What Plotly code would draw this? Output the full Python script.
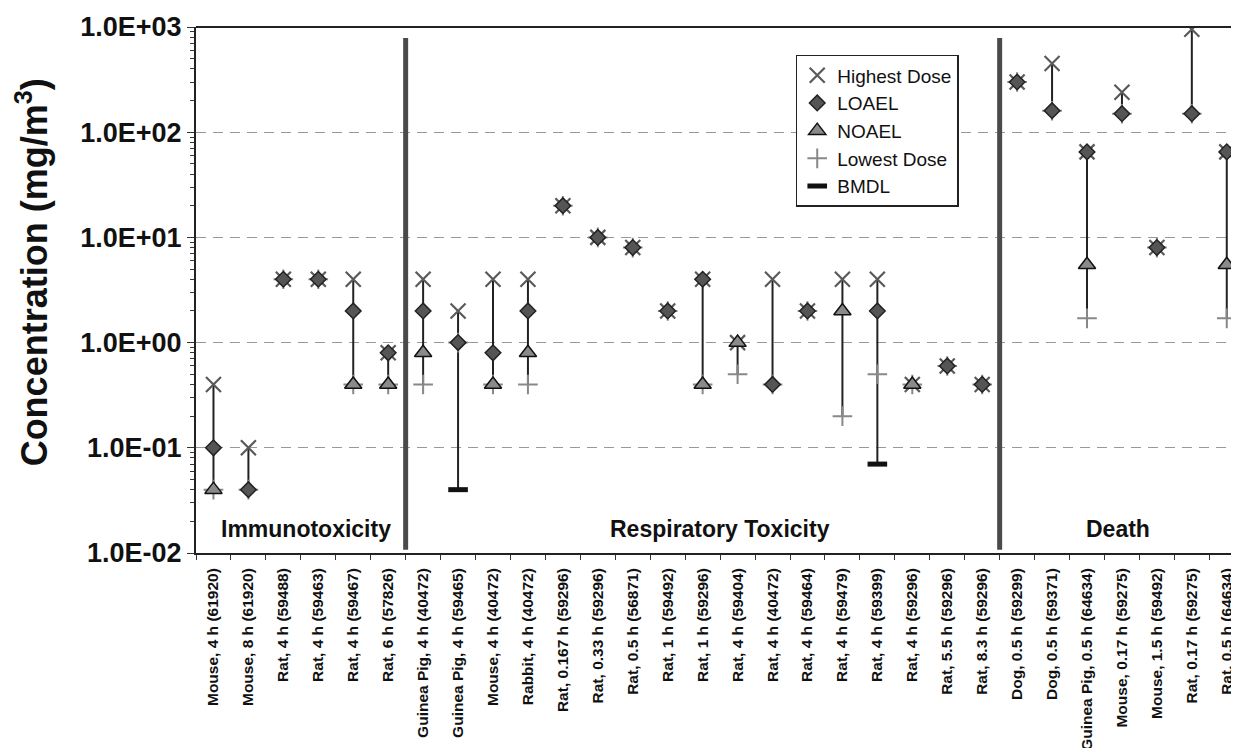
import plotly.graph_objects as go

categories = [
    "Mouse, 4 h (61920)", "Mouse, 8 h (61920)", "Rat, 4 h (59488)", "Rat, 4 h (59463)",
    "Rat, 4 h (59467)", "Rat, 6 h (57826)", "Guinea Pig, 4 h (40472)", "Guinea Pig, 4 h (59465)",
    "Mouse, 4 h (40472)", "Rabbit, 4 h (40472)", "Rat, 0.167 h (59296)", "Rat, 0.33 h (59296)",
    "Rat, 0.5 h (56871)", "Rat, 1 h (59492)", "Rat, 1 h (59296)", "Rat, 4 h (59404)",
    "Rat, 4 h (40472)", "Rat, 4 h (59464)", "Rat, 4 h (59479)", "Rat, 4 h (59399)",
    "Rat, 4 h (59296)", "Rat, 5.5 h (59296)", "Rat, 8.3 h (59296)", "Dog, 0.5 h (59299)",
    "Dog, 0.5 h (59371)", "Guinea Pig, 0.5 h (64634)", "Mouse, 0.17 h (59275)",
    "Mouse, 1.5 h (59492)", "Rat, 0.17 h (59275)", "Rat, 0.5 h (64634)",
]
highest_dose = [0.4, 0.1, 4, 4, 4, 0.8, 4, 2, 4, 4, 20, 10, 8, 2, 4, 1, 4, 2, 4, 4,
                0.4, 0.6, 0.4, 300, 450, 65, 240, 8, 950, 65]
loael = [0.1, 0.04, 4, 4, 2, 0.8, 2, 1, 0.8, 2, 20, 10, 8, 2, 4, None, 0.4, 2, None, 2,
         None, 0.6, 0.4, 300, 160, 65, 150, 8, 150, 65]
noael = [0.04, None, None, None, 0.4, 0.4, 0.8, None, 0.4, 0.8, None, None, None, None, 0.4, 1,
         None, None, 2, None, 0.4, None, None, None, None, 5.5, None, None, None, 5.5]
lowest_dose = [0.04, 0.04, 4, 4, 0.4, 0.4, 0.4, 1, 0.4, 0.4, 20, 10, 8, 2, 0.4, 0.5, 0.4, 2, 0.2, 0.5,
               0.4, 0.6, 0.4, 300, 160, 1.7, 150, 8, 150, 1.7]
bmdl = [None] * 30
bmdl[7] = 0.04
bmdl[19] = 0.07

groups = ["Immunotoxicity", "Respiratory Toxicity", "Death"]
group_centers = [2.65, 14.5, 25.9]
group_separators = [5.5, 22.5]

ytick_vals = [0.01, 0.1, 1, 10, 100, 1000]
ytick_text = ["1.0E-02", "1.0E-01", "1.0E+00", "1.0E+01", "1.0E+02", "1.0E+03"]
y_title = "Concentration (mg/m<sup>3</sup>)"

# vertical range lines (min to max of each category's values)
lx, ly = [], []
for i, c in enumerate(categories):
    vals = [s[i] for s in (highest_dose, loael, noael, lowest_dose, bmdl) if s[i] is not None]
    if max(vals) > min(vals):
        lx += [c, c, None]
        ly += [min(vals), max(vals), None]

fig = go.Figure()
fig.add_trace(go.Scatter(x=lx, y=ly, mode="lines", line=dict(color="#222", width=2),
                         showlegend=False, hoverinfo="skip"))

def pts(series):
    xs = [c for c, v in zip(categories, series) if v is not None]
    ys = [v for v in series if v is not None]
    return xs, ys

x, y = pts(highest_dose)
fig.add_trace(go.Scatter(x=x, y=y, mode="markers", name="Highest Dose", legendrank=1,
                         marker=dict(symbol="x-thin-open", size=15, color="#5a5a5a",
                                     line=dict(color="#5a5a5a", width=2.2))))
x, y = pts(lowest_dose)
fig.add_trace(go.Scatter(x=x, y=y, mode="markers", name="Lowest Dose", legendrank=4,
                         marker=dict(symbol="cross-thin-open", size=14, color="#888",
                                     line=dict(color="#888", width=2))))
x, y = pts(loael)
fig.add_trace(go.Scatter(x=x, y=y, mode="markers", name="LOAEL", legendrank=2,
                         marker=dict(symbol="diamond", size=12, color="#555",
                                     line=dict(color="#222", width=1.5))))
x, y = pts(noael)
fig.add_trace(go.Scatter(x=x, y=y, mode="markers", name="NOAEL", legendrank=3,
                         marker=dict(symbol="triangle-up", size=15, color="#8a8a8a",
                                     line=dict(color="#111", width=1.5))))
x, y = pts(bmdl)
fig.add_trace(go.Scatter(x=x, y=y, mode="markers", name="BMDL", legendrank=5,
                         marker=dict(symbol="line-ew-open", size=14, color="#111",
                                     line=dict(color="#111", width=5))))

shapes = []
for s in group_separators:
    shapes.append(dict(type="line", xref="x", yref="paper", x0=s, x1=s, y0=0.006, y1=0.979,
                       line=dict(color="#4a4a4a", width=5)))
shapes.append(dict(type="line", xref="paper", yref="paper", x0=0, x1=1, y0=1, y1=1,
                   line=dict(color="#222", width=2)))

annotations = []
for g, cx in zip(groups, group_centers):
    annotations.append(dict(x=cx, y=0.045, xref="x", yref="paper", text=g, showarrow=False,
                            font=dict(family="Liberation Sans, Arial, sans-serif",
                                      size=23, color="#111", weight="bold"),
                            xanchor="center", yanchor="middle"))
annotations.append(dict(x=-0.157, y=0.534, xref="paper", yref="paper", text=y_title,
                        showarrow=False, textangle=-90, xanchor="center", yanchor="middle",
                        font=dict(family="Liberation Sans, Arial, sans-serif",
                                  size=36, color="#111", weight="bold")))

minor_vals = [m * 10 ** e for e in range(-2, 3) for m in range(2, 10)]

fig.update_layout(
    width=1231, height=740,
    margin=dict(l=188, r=0, t=19, b=195),
    paper_bgcolor="white", plot_bgcolor="white",
    font=dict(family="Liberation Sans, Arial, sans-serif", color="#111"),
    shapes=shapes, annotations=annotations,
    legend=dict(x=0.575, y=0.947, xanchor="left", yanchor="top",
                bgcolor="white", bordercolor="#222", borderwidth=1.5,
                font=dict(size=19, color="#111"), traceorder="normal"),
    xaxis=dict(type="category", categoryorder="array", categoryarray=categories,
               range=[-0.5, 29.35], tickangle=-90, tickson="boundaries",
               ticks="outside", ticklen=5, tickcolor="#333", ticklabelstandoff=7,
               ticklabeloverflow="allow", automargin=False,
               showline=True, linecolor="#222", linewidth=2, showgrid=False,
               tickfont=dict(size=15.5, weight="bold", color="#111")),
    yaxis=dict(type="log", range=[-2, 3], tickmode="array", tickvals=ytick_vals, ticktext=ytick_text,
               ticks="outside", ticklen=7, tickcolor="#333", automargin=False,
               minor=dict(tickmode="array", tickvals=minor_vals, ticks="outside", ticklen=4,
                          tickcolor="#333", showgrid=False),
               showline=True, linecolor="#222", linewidth=2,
               showgrid=True, gridcolor="#999", griddash="10px,7px", gridwidth=1,
               tickfont=dict(size=27, weight="bold", color="#111")),
)

fig.write_html("out.html")
